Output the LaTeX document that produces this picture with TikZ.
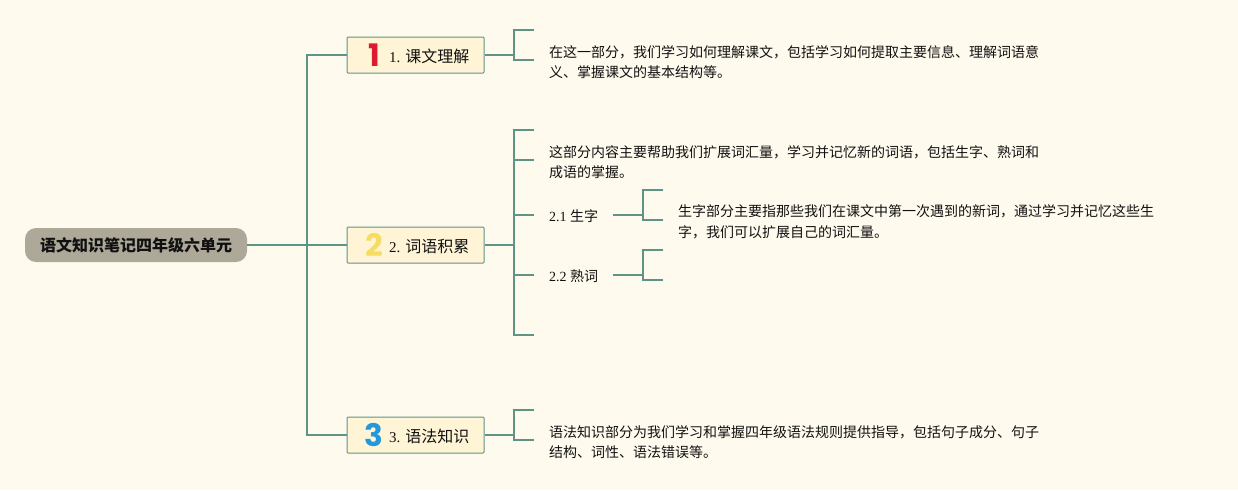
\documentclass[tikz,border=0pt]{standalone}
\usepackage{fontspec}
\setmainfont{Noto Sans CJK SC}
\newfontfamily\latinf{Liberation Serif}
\newfontfamily\iconf{Poppins}[BoldFont=Poppins Bold]
\definecolor{bgc}{HTML}{FFFAEE}
\definecolor{linec}{HTML}{5E9485}
\definecolor{rootc}{HTML}{ADA898}
\definecolor{boxc}{HTML}{FFF5D6}
\definecolor{txtc}{HTML}{111111}
\definecolor{onec}{HTML}{DC1A30}
\definecolor{twoc}{HTML}{F7DC62}
\definecolor{threec}{HTML}{2498DC}
\tikzset{
  conn/.style={draw=linec,line width=1.7pt},
  rootbox/.style={fill=rootc,rounded corners=11pt,minimum width=222pt,minimum height=34pt,inner sep=0pt,font=\fontsize{16pt}{18pt}\selectfont\bfseries,text=txtc},
  topicbox/.style={fill=boxc,draw=linec,line width=1pt,minimum width=137pt,minimum height=36pt,inner sep=0pt,rounded corners=1pt},
  topiclabel/.style={anchor=west,inner sep=0pt,font=\fontsize{16pt}{18pt}\selectfont,text=txtc},
  sublabel/.style={anchor=west,inner sep=0pt,font=\fontsize{14pt}{16pt}\selectfont,text=txtc},
  bodytext/.style={anchor=west,inner sep=0pt,align=left,font=\fontsize{14pt}{20.5pt}\selectfont,text=txtc},
  icon/.style={inner sep=0pt,font=\iconf\bfseries\fontsize{31pt}{31pt}\selectfont}
}
\begin{document}
\begin{tikzpicture}[x=1pt,y=-1pt]
\useasboundingbox (0,0) rectangle (1238,490);
\fill[bgc] (0,0) rectangle (1238,490);
% nodes
\node[rootbox] (root) at (136,245) {语文知识笔记四年级六单元};
\node[topicbox] (b1) at (415.5,55) {};
\node[topicbox] (b2) at (415.5,245) {};
\node[topicbox] (b3) at (415.5,435) {};
\node[icon,text=onec] (i1) at (374.5,55) {1};
\node[icon,text=twoc] (i2) at (374,245) {2};
\node[icon,text=threec] (i3) at (374,435) {3};
\node[topiclabel] (l1) at (389,56) {{\latinf\fontsize{15pt}{18pt}\selectfont 1. }课文理解};
\node[topiclabel] (l2) at (389,246) {{\latinf\fontsize{15pt}{18pt}\selectfont 2. }词语积累};
\node[topiclabel] (l3) at (389,436) {{\latinf\fontsize{15pt}{18pt}\selectfont 3. }语法知识};
\node[bodytext] (t1) at (549,62) {在这一部分，我们学习如何理解课文，包括学习如何提取主要信息、理解词语意\\义、掌握课文的基本结构等。};
\node[bodytext] (t2) at (549,162) {这部分内容主要帮助我们扩展词汇量，学习并记忆新的词语，包括生字、熟词和\\成语的掌握。};
\node[sublabel] (s1) at (549,216) {{\latinf 2.1 }生字};
\node[sublabel] (s2) at (549,276) {{\latinf 2.2 }熟词};
\node[bodytext] (t3) at (678,222) {生字部分主要指那些我们在课文中第一次遇到的新词，通过学习并记忆这些生\\字，我们可以扩展自己的词汇量。};
\node[bodytext] (t4) at (549,442) {语法知识部分为我们学习和掌握四年级语法规则提供指导，包括句子成分、句子\\结构、词性、语法错误等。};
% junction coordinates
\coordinate (trunk) at (307,245);
\coordinate (j1) at (514,55);
\coordinate (j2) at (514,245);
\coordinate (j3) at (514,435);
\coordinate (js1) at (643,215);
\coordinate (js2) at (643,275);
\coordinate (e1a) at (534,30);
\coordinate (e1b) at (534,60);
\coordinate (e2a) at (534,130);
\coordinate (e2b) at (534,160);
\coordinate (e2c) at (534,215);
\coordinate (e2d) at (534,275);
\coordinate (e2e) at (534,335);
\coordinate (e3a) at (534,410);
\coordinate (e3b) at (534,440);
\coordinate (es1a) at (663,190);
\coordinate (es1b) at (663,220);
\coordinate (es2a) at (663,250);
\coordinate (es2b) at (663,280);
\coordinate (s1e) at (613,215);
\coordinate (s2e) at (613,275);
% connectors
\draw[conn] (root.east) -- (b2.west);
\draw[conn] (b1.west) -| (trunk) |- (b3.west);
\draw[conn] (b1.east) -- (j1);
\draw[conn] (e1a) -| (j1) |- (e1b);
\draw[conn] (b2.east) -- (j2);
\draw[conn] (e2a) -| (j2) |- (e2e);
\draw[conn] (j2 |- e2b) -- (e2b);
\draw[conn] (j2 |- e2c) -- (e2c);
\draw[conn] (j2 |- e2d) -- (e2d);
\draw[conn] (b3.east) -- (j3);
\draw[conn] (e3a) -| (j3) |- (e3b);
\draw[conn] (s1e) -- (js1);
\draw[conn] (es1a) -| (js1) |- (es1b);
\draw[conn] (s2e) -- (js2);
\draw[conn] (es2a) -| (js2) |- (es2b);
\end{tikzpicture}
\end{document}
